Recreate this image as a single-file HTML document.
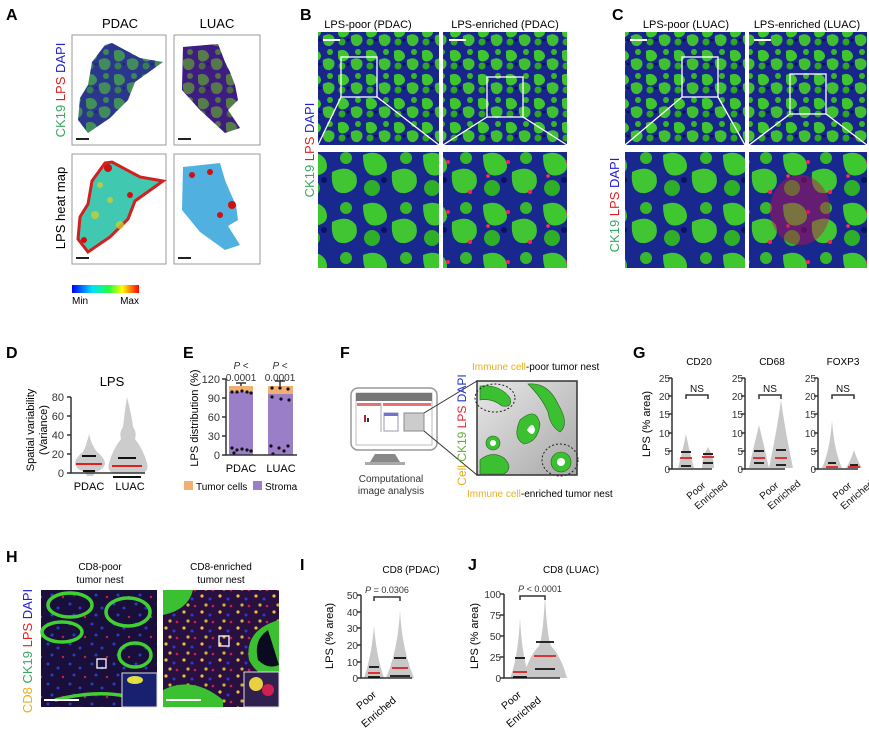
<!DOCTYPE html>
<html><head><meta charset="utf-8"><style>
html,body{margin:0;padding:0;background:#fff}
svg{display:block}
text{font-family:"Liberation Sans",Arial,sans-serif}
</style></head><body>
<svg width="869" height="730" viewBox="0 0 869 730" xmlns="http://www.w3.org/2000/svg">
<defs>
<pattern id="tis" width="28" height="24" patternUnits="userSpaceOnUse">
<rect width="28" height="24" fill="#18268c"/>
<path d="M2 3 q6 -3 10 2 q3 5 -3 8 q-7 2 -7 -5z" fill="#3fc62f"/>
<path d="M15 12 q7 -4 11 1 q2 6 -4 9 q-8 1 -7 -10z" fill="#40c030"/>
<circle cx="22" cy="4" r="3" fill="#38b52a"/>
<circle cx="6" cy="18" r="3.5" fill="#2fa526"/>
<circle cx="12" cy="16" r="1.4" fill="#0a0d50"/>
</pattern>
<pattern id="tisB" width="60" height="50" patternUnits="userSpaceOnUse">
<rect width="60" height="50" fill="#18288e"/>
<path d="M3 5 q14 -6 22 4 q6 12 -6 16 q-16 4 -16 -20z" fill="#3ec72f"/>
<path d="M32 22 q16 -8 24 3 q4 14 -10 18 q-16 2 -14 -21z" fill="#41c532"/>
<circle cx="46" cy="8" r="6" fill="#37b82b"/>
<circle cx="12" cy="38" r="8" fill="#2fae27"/>
<circle cx="24" cy="30" r="3" fill="#0b1060"/>
</pattern>
<pattern id="tisR" width="60" height="50" patternUnits="userSpaceOnUse">
<rect width="60" height="50" fill="url(#tisB)"/>
<circle cx="28" cy="12" r="2" fill="#ff2050"/><circle cx="50" cy="42" r="2" fill="#ff2050"/><circle cx="8" cy="26" r="1.8" fill="#ff3060"/>
</pattern>
<pattern id="h8" width="22" height="20" patternUnits="userSpaceOnUse">
<rect width="22" height="20" fill="#1a0f3a"/>
<circle cx="4" cy="4" r="1.5" fill="#2540c0"/><circle cx="14" cy="8" r="1.5" fill="#2a3cc8"/><circle cx="8" cy="15" r="1.5" fill="#2540c0"/><circle cx="19" cy="17" r="1.2" fill="#c02050"/>
</pattern>
<pattern id="h8e" width="18" height="16" patternUnits="userSpaceOnUse">
<rect width="18" height="16" fill="#2a1040"/>
<circle cx="4" cy="4" r="1.6" fill="#e8c040"/><circle cx="12" cy="7" r="1.5" fill="#2a3cc8"/><circle cx="8" cy="13" r="1.6" fill="#d0b040"/><circle cx="15" cy="14" r="1.3" fill="#d02050"/>
</pattern>
<linearGradient id="cbar" x1="0" x2="1"><stop offset="0" stop-color="#0000ff"/><stop offset=".3" stop-color="#00e0ff"/><stop offset=".55" stop-color="#20ff40"/><stop offset=".75" stop-color="#ffff00"/><stop offset="1" stop-color="#ff0000"/></linearGradient>
<linearGradient id="bg" x1="0" x2="1" y1="0" y2="1"><stop offset="0" stop-color="#e8e8e8"/><stop offset="1" stop-color="#a8a8a8"/></linearGradient>
</defs>

<g font-weight="bold" font-size="16" fill="#000">
<text x="6" y="20">A</text><text x="300" y="20">B</text><text x="612" y="20">C</text>
<text x="6" y="358">D</text><text x="183" y="358">E</text><text x="340" y="358">F</text><text x="633" y="358">G</text>
<text x="6" y="562">H</text><text x="300" y="570">I</text><text x="468" y="570">J</text>
</g>

<!-- A -->
<text x="120" y="28" font-size="13" text-anchor="middle">PDAC</text>
<text x="217" y="28" font-size="13" text-anchor="middle">LUAC</text>
<g transform="translate(65,90) rotate(-90)" font-size="13" text-anchor="middle"><text><tspan fill="#3aa860">CK19 </tspan><tspan fill="#e02020">LPS </tspan><tspan fill="#2020d0">DAPI</tspan></text></g>
<g transform="translate(65,208) rotate(-90)" font-size="13" text-anchor="middle"><text>LPS heat map</text></g>
<rect x="72" y="35" width="94" height="110" fill="#fff" stroke="#999"/>
<rect x="174" y="35" width="86" height="110" fill="#fff" stroke="#999"/>
<rect x="72" y="154" width="94" height="110" fill="#fff" stroke="#999"/>
<rect x="174" y="154" width="86" height="110" fill="#fff" stroke="#999"/>
<path d="M105 45 L112 43 L140 58 L163 62 L135 82 L128 100 L110 118 L88 133 L78 120 L80 98 L88 85 L92 62 Z" fill="url(#tis)" opacity=".85"/>
<path d="M105 45 L112 43 L140 58 L163 62 L135 82 L128 100 L110 118 L88 133 L78 120 L80 98 L88 85 L92 62 Z" fill="#0e1a70" opacity=".35"/>
<path d="M183 47 L218 44 L225 62 L230 72 L235 85 L238 100 L228 110 L240 128 L225 133 L200 110 L182 90 Z" fill="url(#tis)"/>
<path d="M183 47 L218 44 L225 62 L230 72 L235 85 L238 100 L228 110 L240 128 L225 133 L200 110 L182 90 Z" fill="#7a1070" opacity=".4"/>
<path d="M105 163 L112 162 L140 177 L163 181 L135 201 L128 219 L110 237 L88 252 L78 239 L80 217 L88 204 L92 181 Z" fill="#40c8b0" stroke="#d02020" stroke-width="3"/>
<g fill="#e0d020" opacity=".7"><circle cx="95" cy="215" r="4"/><circle cx="110" cy="200" r="3"/><circle cx="120" cy="225" r="4"/><circle cx="100" cy="185" r="3"/></g>
<g fill="#d01010"><circle cx="84" cy="240" r="3"/><circle cx="130" cy="195" r="3"/><circle cx="108" cy="168" r="4"/></g>
<path d="M183 167 L220 163 L225 180 L230 192 L236 205 L238 220 L228 226 L240 245 L225 250 L200 232 L182 210 Z" fill="#50b0e0"/>
<g fill="#d01010"><circle cx="232" cy="205" r="4"/><circle cx="210" cy="172" r="3"/><circle cx="192" cy="175" r="3"/><circle cx="220" cy="215" r="3"/></g>
<g stroke="#222" stroke-width="2"><line x1="76" y1="139" x2="89" y2="139"/><line x1="178" y1="139" x2="191" y2="139"/><line x1="76" y1="258" x2="89" y2="258"/><line x1="178" y1="258" x2="191" y2="258"/></g>
<rect x="72" y="285" width="67" height="8" fill="url(#cbar)"/>
<text x="72" y="304" font-size="10">Min</text><text x="139" y="304" font-size="10" text-anchor="end">Max</text>

<!-- B -->
<text x="368" y="28" font-size="11" text-anchor="middle">LPS-poor (PDAC)</text>
<text x="505" y="28" font-size="11" text-anchor="middle">LPS-enriched (PDAC)</text>
<g transform="translate(314,150) rotate(-90)" font-size="13" text-anchor="middle"><text><tspan fill="#3aa860">CK19 </tspan><tspan fill="#e02020">LPS </tspan><tspan fill="#2020d0">DAPI</tspan></text></g>
<rect x="318" y="32" width="121" height="113" fill="url(#tis)"/>
<rect x="443" y="32" width="124" height="113" fill="url(#tis)"/>
<rect x="318" y="152" width="121" height="116" fill="url(#tisB)"/>
<rect x="443" y="152" width="124" height="116" fill="url(#tisR)"/>
<g stroke="#fff" stroke-width="1.3" fill="none"><rect x="341" y="57" width="36" height="40"/><rect x="487" y="77" width="36" height="40"/>
<line x1="341" y1="97" x2="318" y2="145"/><line x1="377" y1="97" x2="439" y2="145"/><line x1="487" y1="117" x2="443" y2="145"/><line x1="523" y1="117" x2="567" y2="145"/></g>
<g stroke="#fff" stroke-width="2"><line x1="323" y1="40" x2="340" y2="40"/><line x1="449" y1="40" x2="466" y2="40"/></g>

<!-- C -->
<text x="686" y="28" font-size="11" text-anchor="middle">LPS-poor (LUAC)</text>
<text x="807" y="28" font-size="11" text-anchor="middle">LPS-enriched (LUAC)</text>
<g transform="translate(619,205) rotate(-90)" font-size="13" text-anchor="middle"><text><tspan fill="#3aa860">CK19 </tspan><tspan fill="#e02020">LPS </tspan><tspan fill="#2020d0">DAPI</tspan></text></g>
<rect x="625" y="32" width="120" height="113" fill="url(#tis)"/>
<rect x="749" y="32" width="118" height="113" fill="url(#tis)"/>
<rect x="625" y="152" width="120" height="116" fill="url(#tisB)"/>
<rect x="749" y="152" width="118" height="116" fill="url(#tisR)"/>
<ellipse cx="800" cy="210" rx="30" ry="35" fill="#c01050" opacity=".45"/>
<g stroke="#fff" stroke-width="1.3" fill="none"><rect x="682" y="57" width="36" height="40"/><rect x="790" y="74" width="36" height="40"/>
<line x1="682" y1="97" x2="625" y2="145"/><line x1="718" y1="97" x2="745" y2="145"/><line x1="790" y1="114" x2="749" y2="145"/><line x1="826" y1="114" x2="867" y2="145"/></g>
<g stroke="#fff" stroke-width="2"><line x1="630" y1="40" x2="647" y2="40"/><line x1="754" y1="40" x2="771" y2="40"/></g>

<!-- D -->
<text x="112" y="386" font-size="13" text-anchor="middle">LPS</text>
<g transform="translate(34,430) rotate(-90)" font-size="11" text-anchor="middle"><text>Spatial variability</text><text y="13">(Variance)</text></g>
<path d="M89 434 q-2 10 -6 18 q-8 6 -8 12 q2 6 10 8 l2 4 h6 l2 -4 q8 -2 10 -8 q0 -6 -8 -12 q-6 -8 -8 -18z" fill="#ccc"/>
<path d="M127 397 q-3 20 -4 30 q-4 5 -2 12 q-8 10 -12 24 q-2 8 4 10 h30 q6 -2 4 -10 q-4 -14 -12 -24 q2 -7 -2 -12 q-1 -10 -6 -30z" fill="#ccc"/>
<g stroke-width="2"><line x1="76" y1="464" x2="102" y2="464" stroke="#e02020"/><line x1="82" y1="456" x2="96" y2="456" stroke="#111"/><line x1="83" y1="471" x2="95" y2="471" stroke="#111"/>
<line x1="112" y1="466" x2="142" y2="466" stroke="#e02020"/><line x1="118" y1="458" x2="136" y2="458" stroke="#111"/><line x1="113" y1="477" x2="141" y2="477" stroke="#111"/></g>
<g stroke="#333" stroke-width="1.5" fill="none"><path d="M71 397 V473 H145"/><path d="M67 397 h4 M67 416 h4 M67 435 h4 M67 454 h4 M67 473 h4"/></g>
<g font-size="11" text-anchor="end" fill="#333"><text x="64" y="401">80</text><text x="64" y="420">60</text><text x="64" y="439">40</text><text x="64" y="458">20</text><text x="64" y="477">0</text></g>
<text x="89" y="490" font-size="11" text-anchor="middle">PDAC</text><text x="130" y="490" font-size="11" text-anchor="middle">LUAC</text>

<!-- E -->
<g transform="translate(198,418) rotate(-90)" font-size="11" text-anchor="middle"><text>LPS distribution (%)</text></g>
<rect x="229" y="392" width="24" height="63" fill="#9a7ec8"/><rect x="229" y="386" width="24" height="6" fill="#f2b070"/>
<rect x="268" y="394" width="25" height="61" fill="#9a7ec8"/><rect x="268" y="386" width="25" height="8" fill="#f2b070"/>
<g fill="#111"><circle cx="232" cy="392" r="1.6"/><circle cx="237" cy="392" r="1.6"/><circle cx="242" cy="391" r="1.6"/><circle cx="247" cy="392" r="1.6"/><circle cx="251" cy="393" r="1.6"/>
<circle cx="232" cy="448" r="1.6"/><circle cx="237" cy="450" r="1.6"/><circle cx="242" cy="449" r="1.6"/><circle cx="247" cy="450" r="1.6"/><circle cx="251" cy="451" r="1.6"/><circle cx="234" cy="453" r="1.6"/>
<circle cx="272" cy="388" r="1.6"/><circle cx="280" cy="388" r="1.6"/><circle cx="288" cy="389" r="1.6"/><circle cx="272" cy="397" r="1.6"/><circle cx="281" cy="399" r="1.6"/><circle cx="289" cy="400" r="1.6"/>
<circle cx="271" cy="446" r="1.6"/><circle cx="279" cy="448" r="1.6"/><circle cx="288" cy="446" r="1.6"/><circle cx="273" cy="454" r="1.6"/><circle cx="284" cy="451" r="1.6"/></g>
<g stroke="#333" stroke-width="1.5" fill="none"><path d="M226 379 V455 H297"/><path d="M222 379 h4 M222 398 h4 M222 417 h4 M222 436 h4 M222 455 h4"/><path d="M241 386 v-3 M236 383 h10 M280 386 v-5 M275 381 h10"/></g>
<g font-size="11" text-anchor="end" fill="#333"><text x="220" y="383">120</text><text x="220" y="402">90</text><text x="220" y="421">60</text><text x="220" y="440">30</text><text x="220" y="459">0</text></g>
<g font-size="10" fill="#333" text-anchor="middle"><text x="241" y="369" font-style="italic">P &lt;</text><text x="241" y="381">0.0001</text><text x="280" y="369" font-style="italic">P &lt;</text><text x="280" y="381">0.0001</text></g>
<text x="241" y="472" font-size="11" text-anchor="middle">PDAC</text><text x="281" y="472" font-size="11" text-anchor="middle">LUAC</text>
<rect x="184" y="481" width="9" height="9" fill="#f2b070"/><text x="196" y="490" font-size="10">Tumor cells</text>
<rect x="253" y="481" width="9" height="9" fill="#9a7ec8"/><text x="265" y="490" font-size="10">Stroma</text>

<!-- F -->
<rect x="351" y="388" width="86" height="62" rx="7" fill="#fff" stroke="#999" stroke-width="1.5"/>
<rect x="356" y="393" width="76" height="52" fill="#fff" stroke="#bbb"/>
<rect x="356" y="393" width="76" height="8" fill="#777"/>
<rect x="357" y="403" width="24" height="3" fill="#e87070"/><rect x="383" y="403" width="48" height="3" fill="#e87070"/>
<line x1="381" y1="403" x2="381" y2="432" stroke="#aaa"/>
<rect x="364" y="415" width="2" height="7" fill="#c02020"/><rect x="367" y="418" width="2" height="4" fill="#333"/>
<rect x="384" y="413" width="14" height="18" fill="#fff" stroke="#99a"/><rect x="384" y="413" width="14" height="3" fill="#7070e0"/>
<rect x="404" y="413" width="20" height="18" fill="#ccc" stroke="#888"/>
<path d="M375 454 L395 454 L400 462 L370 462Z" fill="#888"/><rect x="365" y="462" width="40" height="3" fill="#aaa"/>
<text x="391" y="482" font-size="10" text-anchor="middle" fill="#333">Computational</text><text x="391" y="494" font-size="10" text-anchor="middle" fill="#333">image analysis</text>
<line x1="424" y1="413" x2="477" y2="381" stroke="#333"/><line x1="424" y1="431" x2="477" y2="475" stroke="#333"/>
<rect x="477" y="381" width="100" height="94" fill="url(#bg)" stroke="#333" stroke-width="1.5"/>
<g fill="#3ac030" stroke="#2a6020" stroke-width=".6">
<path d="M480 386 q20 -2 30 12 q3 10 -8 8 q-10 -8 -22 -6z"/>
<path d="M528 384 q20 -2 30 20 q12 20 2 28 q-10 -6 -12 -20 q-6 -14 -20 -28z"/>
<path d="M520 420 q16 -14 20 4 q-2 18 -16 20 q-12 -6 -4 -24z"/>
<path d="M480 460 q12 -10 24 -2 q10 10 0 16 h-24z"/>
<circle cx="561" cy="462" r="10"/><circle cx="493" cy="443" r="7"/></g>
<g fill="#fff"><circle cx="561" cy="462" r="4"/><circle cx="493" cy="443" r="3"/><path d="M527 430 q6 -10 8 0 q-2 8 -8 0z"/></g>
<g fill="none" stroke="#222" stroke-dasharray="2 2"><ellipse cx="495" cy="398" rx="20" ry="14"/><ellipse cx="560" cy="460" rx="18" ry="16"/></g>
<g transform="translate(466,430) rotate(-90)" font-size="12" text-anchor="middle"><text><tspan fill="#e0b020">Cell </tspan><tspan fill="#60b040">CK19 </tspan><tspan fill="#e02030">LPS </tspan><tspan fill="#2030d0">DAPI</tspan></text></g>
<text x="472" y="370" font-size="10"><tspan fill="#e8b020">Immune cell</tspan>-poor tumor nest</text>
<text x="467" y="497" font-size="10"><tspan fill="#e8b020">Immune cell</tspan>-enriched tumor nest</text>

<!-- G -->
<g transform="translate(650,424) rotate(-90)" font-size="11" text-anchor="middle"><text>LPS (% area)</text></g>
<g id="g1">
<g font-size="10" text-anchor="end" fill="#333"><text x="670" y="382">25</text><text x="670" y="400">20</text><text x="670" y="418">15</text><text x="670" y="437">10</text><text x="670" y="455">5</text><text x="670" y="473">0</text></g>
<g stroke="#333" stroke-width="1.5" fill="none"><path d="M672 378 V469 H694"/><path d="M668 378 h4 M668 396 h4 M668 414 h4 M668 433 h4 M668 451 h4 M668 469 h4"/></g>
</g>
<use href="#g1" x="73"/><use href="#g1" x="146"/>
<g stroke="#333" stroke-width="1.5" fill="none"><path d="M694 469 H712 M767 469 H785 M840 469 H858"/>
<path d="M686 399 v-4 H708 v4 M759 399 v-4 H781 v4 M832 399 v-4 H854 v4"/></g>
<g font-size="10" text-anchor="middle" fill="#111"><text x="697" y="392">NS</text><text x="770" y="392">NS</text><text x="843" y="392">NS</text></g>
<g font-size="10" text-anchor="middle"><text x="699" y="365">CD20</text><text x="772" y="365">CD68</text><text x="843" y="365">FOXP3</text></g>
<g fill="#c8c8c8"><path d="M686 434 q-4 20 -8 34 h16 q-4 -14 -8 -34z"/><path d="M708 447 q-6 10 -6 21 h12 q0 -11 -6 -21z"/>
<path d="M759 425 q-6 25 -10 43 h20 q-4 -18 -10 -43z"/><path d="M781 400 q-4 30 -12 68 h24 q-8 -38 -12 -68z"/>
<path d="M832 420 q-2 30 -10 48 h20 q-8 -18 -10 -48z"/><path d="M854 450 q-3 10 -8 18 h16 q-5 -8 -8 -18z"/></g>
<g stroke-width="1.8"><g stroke="#e02020"><line x1="680" y1="458" x2="692" y2="458"/><line x1="702" y1="457" x2="714" y2="457"/><line x1="753" y1="458" x2="765" y2="458"/><line x1="775" y1="458" x2="787" y2="458"/><line x1="826" y1="467" x2="838" y2="467"/><line x1="848" y1="467" x2="860" y2="467"/></g>
<g stroke="#111"><line x1="681" y1="452" x2="691" y2="452"/><line x1="681" y1="466" x2="691" y2="466"/><line x1="703" y1="454" x2="713" y2="454"/><line x1="703" y1="463" x2="713" y2="463"/><line x1="754" y1="451" x2="764" y2="451"/><line x1="754" y1="463" x2="764" y2="463"/><line x1="776" y1="450" x2="786" y2="450"/><line x1="776" y1="465" x2="786" y2="465"/><line x1="828" y1="463" x2="836" y2="463"/><line x1="850" y1="465" x2="858" y2="465"/></g></g>
<g font-size="10" fill="#111">
<text transform="translate(690,500) rotate(-40)">Poor</text><text transform="translate(698,510) rotate(-40)">Enriched</text>
<text transform="translate(763,500) rotate(-40)">Poor</text><text transform="translate(771,510) rotate(-40)">Enriched</text>
<text transform="translate(836,500) rotate(-40)">Poor</text><text transform="translate(844,510) rotate(-40)">Enriched</text></g>

<!-- H -->
<text x="100" y="570" font-size="10" text-anchor="middle">CD8-poor</text><text x="100" y="583" font-size="10" text-anchor="middle">tumor nest</text>
<text x="221" y="570" font-size="10" text-anchor="middle">CD8-enriched</text><text x="221" y="583" font-size="10" text-anchor="middle">tumor nest</text>
<g transform="translate(32,651) rotate(-90)" font-size="13" text-anchor="middle"><text><tspan fill="#e8b020">CD8 </tspan><tspan fill="#3aa860">CK19 </tspan><tspan fill="#e02020">LPS </tspan><tspan fill="#2020d0">DAPI</tspan></text></g>
<rect x="41" y="590" width="116" height="117" fill="url(#h8)"/>
<g fill="none" stroke="#40d030" stroke-width="3.5"><ellipse cx="70" cy="605" rx="22" ry="12"/><ellipse cx="128" cy="612" rx="22" ry="14"/><ellipse cx="62" cy="632" rx="20" ry="10"/><ellipse cx="135" cy="655" rx="16" ry="12"/><path d="M55 700 q40 -10 70 -4"/></g>
<rect x="163" y="590" width="116" height="117" fill="url(#h8e)"/>
<g fill="#3ac030"><path d="M163 590 h30 q-5 20 -30 25z"/><path d="M279 620 q-35 10 -30 40 q10 20 30 15z"/><path d="M163 690 q30 -15 60 10 v7 h-60z"/></g>
<path d="M268 630 q-15 10 -10 30 q10 10 21 5z" fill="#0a0a20"/>
<rect x="122" y="673" width="35" height="34" fill="#182070" stroke="#ddd"/><ellipse cx="135" cy="680" rx="8" ry="4" fill="#e0e040"/>
<rect x="244" y="672" width="35" height="35" fill="#302050" stroke="#ddd"/><circle cx="256" cy="684" r="7" fill="#e8d040"/><circle cx="268" cy="690" r="6" fill="#d02050"/>
<g fill="none" stroke="#fff" stroke-width="1.3"><rect x="97" y="659" width="9" height="9"/><rect x="219" y="636" width="10" height="10"/></g>
<g stroke="#fff" stroke-width="2"><line x1="44" y1="700" x2="79" y2="700"/><line x1="166" y1="700" x2="201" y2="700"/></g>

<!-- I -->
<text x="411" y="573" font-size="10" text-anchor="middle">CD8 (PDAC)</text>
<g transform="translate(333,636) rotate(-90)" font-size="11" text-anchor="middle"><text>LPS (% area)</text></g>
<g font-size="10" text-anchor="end" fill="#333"><text x="358" y="599">50</text><text x="358" y="616">40</text><text x="358" y="632">30</text><text x="358" y="649">20</text><text x="358" y="666">10</text><text x="358" y="682">0</text></g>
<path d="M374 625 q-2 30 -10 53 h20 q-8 -23 -10 -53z" fill="#c8c8c8"/>
<path d="M400 610 q-2 40 -14 68 h28 q-12 -28 -14 -68z" fill="#c8c8c8"/>
<g stroke="#333" stroke-width="1.5" fill="none"><path d="M361 595 V678 H412"/><path d="M357 595 h4 M357 612 h4 M357 628 h4 M357 645 h4 M357 662 h4 M357 678 h4"/><path d="M374 601 v-4 H400 v4"/></g>
<text x="387" y="593" font-size="9" text-anchor="middle" fill="#333"><tspan font-style="italic">P</tspan> = 0.0306</text>
<g stroke-width="1.8"><line x1="368" y1="673" x2="380" y2="673" stroke="#e02020"/><line x1="369" y1="667" x2="379" y2="667" stroke="#111"/><line x1="368" y1="677" x2="380" y2="677" stroke="#111"/>
<line x1="392" y1="668" x2="408" y2="668" stroke="#e02020"/><line x1="394" y1="658" x2="406" y2="658" stroke="#111"/><line x1="390" y1="676" x2="410" y2="676" stroke="#111"/></g>
<g font-size="10.5"><text transform="translate(360,710) rotate(-40)">Poor</text><text transform="translate(365,728) rotate(-40)">Enriched</text></g>

<!-- J -->
<text x="571" y="573" font-size="10" text-anchor="middle">CD8 (LUAC)</text>
<g transform="translate(478,636) rotate(-90)" font-size="11" text-anchor="middle"><text>LPS (% area)</text></g>
<g font-size="10" text-anchor="end" fill="#333"><text x="501" y="598">100</text><text x="501" y="619">75</text><text x="501" y="640">50</text><text x="501" y="661">25</text><text x="501" y="682">0</text></g>
<path d="M520 618 q-2 40 -10 60 h20 q-8 -20 -10 -60z" fill="#c8c8c8"/>
<path d="M545 596 q-2 40 -6 50 q-10 10 -16 32 h44 q-6 -22 -16 -32 q-4 -10 -6 -50z" fill="#c8c8c8"/>
<g stroke="#333" stroke-width="1.5" fill="none"><path d="M504 594 V678 H560"/><path d="M500 594 h4 M500 615 h4 M500 636 h4 M500 657 h4 M500 678 h4"/><path d="M520 600 v-4 H545 v4"/></g>
<text x="540" y="592" font-size="9" text-anchor="middle" fill="#333"><tspan font-style="italic">P</tspan> &lt; 0.0001</text>
<g stroke-width="1.8"><line x1="513" y1="672" x2="527" y2="672" stroke="#e02020"/><line x1="515" y1="658" x2="525" y2="658" stroke="#111"/><line x1="513" y1="677" x2="527" y2="677" stroke="#111"/>
<line x1="534" y1="656" x2="556" y2="656" stroke="#e02020"/><line x1="536" y1="642" x2="554" y2="642" stroke="#111"/><line x1="535" y1="669" x2="555" y2="669" stroke="#111"/></g>
<g font-size="10.5"><text transform="translate(505,710) rotate(-40)">Poor</text><text transform="translate(510,728) rotate(-40)">Enriched</text></g>
</svg>
</body></html>
